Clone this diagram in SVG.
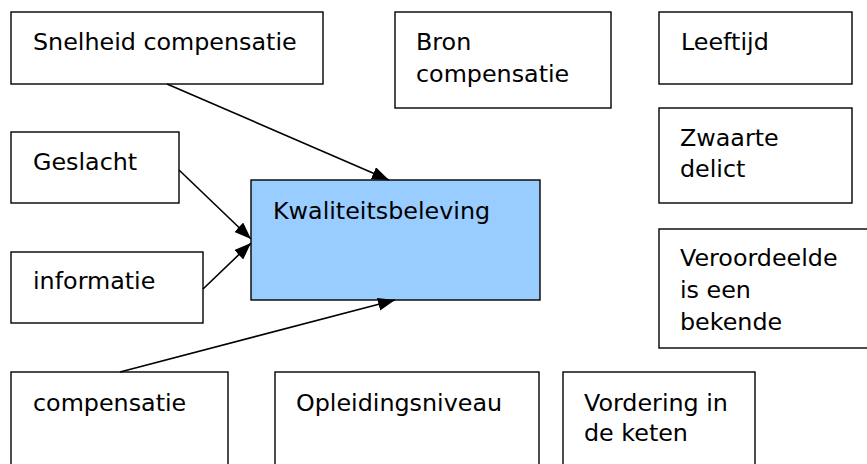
<svg xmlns="http://www.w3.org/2000/svg" width="867" height="464" viewBox="0 0 867 464">
<style>
.box{fill:#fff;stroke:#000;stroke-width:1.4}
.main{fill:#99ccff;stroke:#000;stroke-width:1.4}
text{font-family:"DejaVu Sans",Verdana,sans-serif;font-size:23.8px;fill:#000}
.edge{stroke:#000;stroke-width:1.6;fill:none;marker-end:url(#arr)}
</style>
<defs>
<marker id="arr" markerWidth="17" markerHeight="13" refX="17" refY="6.5" orient="auto" markerUnits="userSpaceOnUse">
<path d="M0,0 L17,6.5 L0,13 z" fill="#000"/>
</marker>
</defs>
<rect width="867" height="464" fill="#fff"/>
<g id="snelheid"><rect class="box" x="11" y="12" width="312" height="72"/><text x="33" y="50">Snelheid compensatie</text></g>
<g id="bron"><rect class="box" x="395" y="12" width="216" height="96"/><text x="416" y="50">Bron</text><text x="416" y="82">compensatie</text></g>
<g id="leeftijd"><rect class="box" x="659" y="12" width="193" height="72"/><text x="681" y="50">Leeftijd</text></g>
<g id="zwaarte"><rect class="box" x="659" y="108" width="193" height="95"/><text x="680" y="146">Zwaarte</text><text x="680" y="177">delict</text></g>
<g id="veroordeelde"><rect class="box" x="659" y="229" width="212" height="119"/><text x="680" y="266">Veroordeelde</text><text x="680" y="298">is een</text><text x="680" y="330">bekende</text></g>
<g id="geslacht"><rect class="box" x="11" y="132" width="168" height="71"/><text x="33" y="170">Geslacht</text></g>
<g id="informatie"><rect class="box" x="11" y="252" width="192" height="71"/><text x="33" y="289">informatie</text></g>
<g id="kwaliteit"><rect class="main" x="251" y="180" width="289" height="120"/><text x="273" y="219">Kwaliteitsbeleving</text></g>
<g id="compensatie"><rect class="box" x="11" y="372" width="217" height="100"/><text x="33" y="411">compensatie</text></g>
<g id="opleiding"><rect class="box" x="275" y="372" width="264" height="100"/><text x="296" y="411">Opleidingsniveau</text></g>
<g id="vordering"><rect class="box" x="563" y="372" width="192" height="100"/><text x="584" y="411">Vordering in</text><text x="584" y="441">de keten</text></g>
<g id="connectors">
<line class="edge" x1="167" y1="84" x2="389" y2="180"/>
<line class="edge" x1="179" y1="170" x2="251" y2="239"/>
<line class="edge" x1="203" y1="289" x2="251" y2="243"/>
<line class="edge" x1="120" y1="372" x2="395" y2="300"/>
</g>
</svg>
